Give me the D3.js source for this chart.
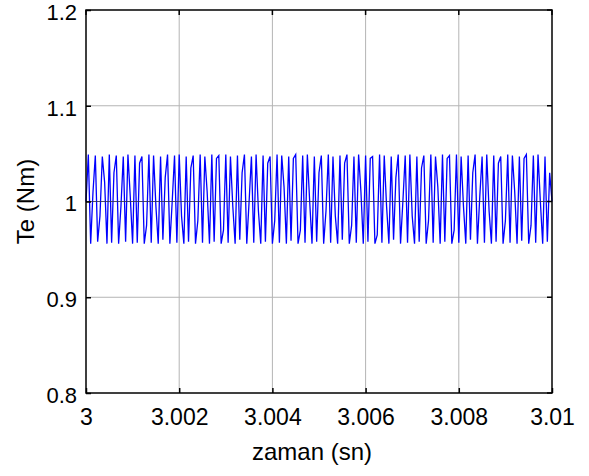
<!DOCTYPE html>
<html>
<head>
  <title>Te</title>
  <script src="https://d3js.org/d3.v7.min.js"></script>
  <style>
    body { margin: 0; background: #fff; font-family: "Liberation Sans", Arial, sans-serif; }
  </style>
</head>
<body>
<div id="chart"></div>
<script>
  // x axis: time (s), samples start at t0 with step dt
  let t0 = 3;
  let dt = 0.00005;
  let xTicks = [3, 3.002, 3.004, 3.006, 3.008, 3.01];
  let xTickLabels = ['3', '3.002', '3.004', '3.006', '3.008', '3.01'];
  let yTicks = [0.8, 0.9, 1.0, 1.1, 1.2];
  let yTickLabels = ['0.8', '0.9', '1', '1.1', '1.2'];
  let refLine = [1.0];

  // torque samples (Nm)
  let te = [
    1.000, 1.049, 0.956, 1.010, 1.048, 0.958, 0.985, 1.047, 1.020, 0.956,
    1.049, 0.957, 1.030, 1.048, 0.956, 0.995, 1.047, 0.958, 1.049, 1.005,
    0.956, 1.048, 0.957, 1.040, 1.047, 0.956, 0.975, 1.049, 0.957, 1.048,
    0.995, 0.956, 1.047, 0.960, 1.025, 1.049, 0.956, 1.000, 1.048, 0.957,
    1.049, 0.985, 0.956, 1.047, 0.958, 1.035, 1.048, 0.956, 0.980, 1.049,
    0.957, 1.047, 1.010, 0.956, 1.049, 0.958, 1.045, 1.048, 0.956, 0.970,
    1.049, 0.957, 1.047, 0.995, 0.956, 1.048, 0.960, 1.030, 1.049, 0.956,
    1.000, 1.047, 0.957, 1.049, 0.990, 0.956, 1.048, 0.958, 1.040, 1.047,
    0.956, 0.980, 1.049, 0.957, 1.048, 1.015, 0.956, 1.047, 0.959, 1.045,
    1.049, 0.956, 0.970, 1.048, 0.957, 1.049, 1.000, 0.956, 1.047, 0.958,
    1.030, 1.048, 0.956, 0.990, 1.049, 0.957, 1.047, 0.985, 0.956, 1.048,
    0.960, 1.040, 1.049, 0.956, 0.975, 1.047, 0.957, 1.049, 1.010, 0.956,
    1.048, 0.958, 1.045, 1.047, 0.956, 0.965, 1.049, 0.957, 1.048, 0.995,
    0.956, 1.047, 0.960, 1.025, 1.049, 0.956, 1.000, 1.048, 0.957, 1.049,
    0.985, 0.956, 1.047, 0.958, 1.035, 1.048, 0.956, 0.980, 1.049, 0.957,
    1.047, 1.015, 0.956, 1.049, 0.958, 1.045, 1.048, 0.956, 0.970, 1.049,
    0.957, 1.047, 0.995, 0.956, 1.048, 0.960, 1.030, 1.049, 0.956, 1.005,
    1.047, 0.957, 1.049, 0.990, 0.956, 1.048, 0.958, 1.040, 1.047, 0.956,
    0.980, 1.049, 0.957, 1.048, 1.010, 0.956, 1.047, 0.959, 1.045, 1.049,
    0.956, 0.975, 1.048, 0.957, 1.049, 1.000, 0.956, 1.047, 0.958, 1.030,
    1.000
  ];

  let width = 589;
  let height = 476;
  let margin = { top: 10, right: 37, bottom: 83, left: 86 };
  let innerW = width - margin.left - margin.right;
  let innerH = height - margin.top - margin.bottom;

  let svg = d3.select('#chart')
    .append('svg')
    .attr('width', width)
    .attr('height', height);

  let g = svg.append('g')
    .attr('transform', 'translate(' + margin.left + ',' + margin.top + ')');

  let x = d3.scaleLinear().domain([3, 3.01]).range([0, innerW]);
  let y = d3.scaleLinear().domain([0.8, 1.2]).range([innerH, 0]);

  // grid
  g.selectAll('.vgrid')
    .data(xTicks.slice(1, -1))
    .enter()
    .append('line')
    .attr('x1', d => x(d)).attr('x2', d => x(d))
    .attr('y1', 0).attr('y2', innerH)
    .attr('stroke', '#b4b4b4')
    .attr('stroke-width', 1);

  g.selectAll('.hgrid')
    .data(yTicks.slice(1, -1))
    .enter()
    .append('line')
    .attr('x1', 0).attr('x2', innerW)
    .attr('y1', d => y(d)).attr('y2', d => y(d))
    .attr('stroke', '#b4b4b4')
    .attr('stroke-width', 1);

  // signal
  let line = d3.line()
    .x((d, i) => x(t0 + i * dt))
    .y(d => y(d));

  g.append('path')
    .datum(te)
    .attr('d', line)
    .attr('fill', 'none')
    .attr('stroke', '#0000ff')
    .attr('stroke-width', 1.3);

  // reference line at 1
  g.selectAll('.ref')
    .data(refLine)
    .enter()
    .append('line')
    .attr('x1', 0).attr('x2', innerW)
    .attr('y1', d => y(d)).attr('y2', d => y(d))
    .attr('stroke', '#333355')
    .attr('stroke-opacity', 0.8)
    .attr('stroke-width', 1);

  // axes (inner ticks)
  let xAxis = d3.axisBottom(x)
    .tickValues(xTicks)
    .tickFormat((d, i) => xTickLabels[i])
    .tickSizeInner(-5)
    .tickSizeOuter(0)
    .tickPadding(0);

  let yAxis = d3.axisLeft(y)
    .tickValues(yTicks)
    .tickFormat((d, i) => yTickLabels[i])
    .tickSizeInner(-5)
    .tickSizeOuter(0)
    .tickPadding(9);

  let gx = g.append('g')
    .attr('transform', 'translate(0,' + innerH + ')')
    .call(xAxis);

  let gy = g.append('g').call(yAxis);

  [gx, gy].forEach(a => {
    a.select('.domain').remove();
    a.selectAll('.tick line').attr('stroke', '#000').attr('stroke-width', 1.5);
    a.selectAll('.tick text')
      .attr('fill', '#000')
      .style('font-family', '"Liberation Sans", Arial, sans-serif')
      .style('font-size', '23px');
  });
  gx.selectAll('.tick text').attr('y', 0).attr('dy', 32);
  gy.selectAll('.tick text').style('font-size', '22px').attr('dy', '0.42em');

  // top/right ticks
  g.selectAll('.xtop')
    .data(xTicks)
    .enter()
    .append('line')
    .attr('x1', d => x(d)).attr('x2', d => x(d))
    .attr('y1', 0).attr('y2', 5)
    .attr('stroke', '#000').attr('stroke-width', 1.5);

  g.selectAll('.yright')
    .data(yTicks)
    .enter()
    .append('line')
    .attr('x1', innerW - 5).attr('x2', innerW)
    .attr('y1', d => y(d)).attr('y2', d => y(d))
    .attr('stroke', '#000').attr('stroke-width', 1.5);

  // box
  g.append('rect')
    .attr('x', 0).attr('y', 0)
    .attr('width', innerW).attr('height', innerH)
    .attr('fill', 'none')
    .attr('stroke', '#000')
    .attr('stroke-width', 1.5);

  // axis labels
  svg.append('text')
    .attr('x', 312)
    .attr('y', 460)
    .attr('text-anchor', 'middle')
    .style('font-size', '24px')
    .text('zaman (sn)');

  svg.append('text')
    .attr('transform', 'translate(34,' + (margin.top + innerH / 2) + ') rotate(-90)')
    .attr('text-anchor', 'middle')
    .style('font-size', '24px')
    .text('Te (Nm)');
</script>
</body>
</html>
